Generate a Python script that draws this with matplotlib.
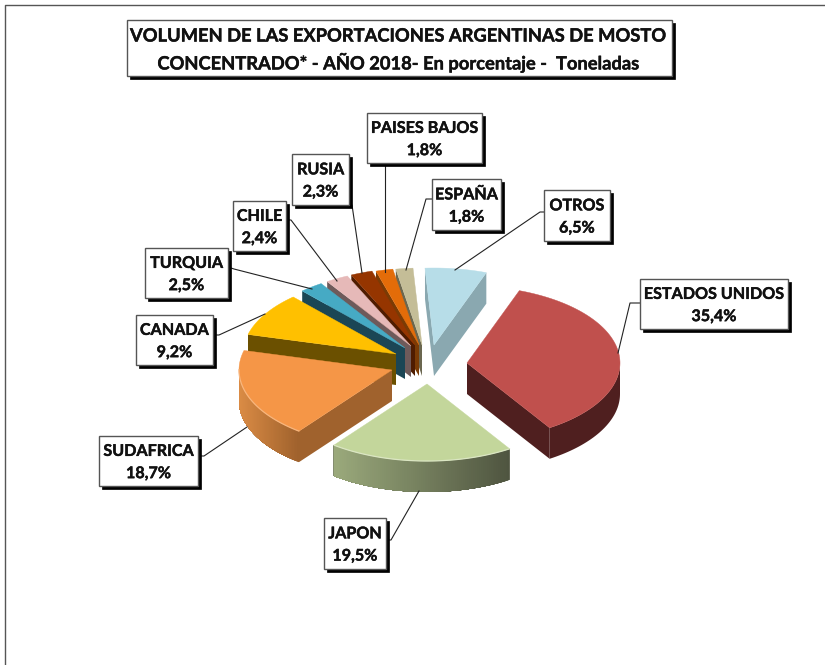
import numpy as np
import matplotlib
matplotlib.use("Agg")
import matplotlib.pyplot as plt
import matplotlib.patheffects as pe
from matplotlib.patches import Polygon, Rectangle
from matplotlib.colors import to_rgb

# --- Data ---
TITLE = "VOLUMEN DE LAS EXPORTACIONES ARGENTINAS DE MOSTO\nCONCENTRADO* - AÑO 2018- En porcentaje -  Toneladas"
countries = ["ESTADOS UNIDOS", "JAPON", "SUDAFRICA", "CANADA", "TURQUIA",
             "CHILE", "RUSIA", "PAISES BAJOS", "ESPAÑA", "OTROS"]
shares = [35.4, 19.5, 18.7, 9.2, 2.5, 2.4, 2.3, 1.8, 1.8, 6.5]

# --- Style ---
top_colors = ["#C0504D", "#C3D69B", "#F59647", "#FFC000", "#46AAC4",
              "#E6B9B8", "#953500", "#E36C09", "#C4BD97", "#B7DDE8"]
side_colors = ["#4F1F1F", "#4F5540", "#A0622D", "#6B5000", "#1B4655",
               "#6E5A5A", "#4F1C00", "#7A3B05", "#6B6750", "#8AA8B0"]
rim_left = ["#4F1F1F", "#9BAA7C", "#DB8C45", "#6B5000", "#1B4655",
            "#6E5A5A", "#4F1C00", "#7A3B05", "#6B6750", "#8AA8B0"]
rim_right = ["#4F1F1F", "#4F5540", "#A0622D", "#6B5000", "#1B4655",
             "#6E5A5A", "#4F1C00", "#7A3B05", "#6B6750", "#8AA8B0"]
bevel = [0, 0.4, 0.3, 0, 0, 0, 0, 0, 0, 0]
# wedge tip of each slice after exploding, in pixels
apex_x = [467, 427, 392, 396, 405, 411, 415, 419, 422, 434]
apex_y = [363, 384, 370, 354, 348, 346, 345, 345, 345, 345]
# label boxes: left, top, right, bottom
boxes = [(640, 279, 788, 329), (324, 518, 386, 569), (99, 436, 198, 486),
         (136, 315, 213, 365), (145, 248, 228, 298), (233, 201, 286, 251),
         (292, 154, 349, 205), (367, 113, 482, 163), (432, 179, 501, 230),
         (544, 190, 610, 241)]
leaders = [[(640, 303), (630, 303), (618, 353)],
           [(386, 540), (391, 540), (419, 491)],
           [(198, 456), (204, 456), (247, 427)],
           [(213, 335), (219, 335), (265, 314)],
           [(228, 267), (234, 269), (312, 289)],
           [(286, 220), (291, 220), (337, 281)],
           [(349, 205), (352, 205), (362, 273)],
           [(385, 163), (385, 272)],
           [(432, 199), (426, 199), (406, 270)],
           [(544, 212), (540, 212), (455, 270)]]
START_ANGLE = 70
RX, RY = 153, 77
DEPTH = 31
# back to front
draw_order = [9, 8, 7, 6, 5, 4, 3, 0, 2, 1]


def mix(c1, c2, f):
    a, b = np.array(to_rgb(c1)), np.array(to_rgb(c2))
    return tuple(a + (b - a) * f)


def draw_slice(ax, i, t0, t1):
    ax_, ay_ = apex_x[i], apex_y[i]
    t = np.radians(np.linspace(t0, t1, 90))
    xs = ax_ + RX * np.cos(t)
    ys = ay_ - RY * np.sin(t)

    # radial faces, only if they turn toward the viewer
    if xs[0] < ax_:
        ax.add_patch(Polygon([(ax_, ay_), (xs[0], ys[0]), (xs[0], ys[0] + DEPTH), (ax_, ay_ + DEPTH)],
                             closed=True, fc=side_colors[i], ec="none"))
    if ax_ < xs[-1]:
        ax.add_patch(Polygon([(ax_, ay_), (xs[-1], ys[-1]), (xs[-1], ys[-1] + DEPTH), (ax_, ay_ + DEPTH)],
                             closed=True, fc=side_colors[i], ec="none"))

    # outer rim: one solid band, then overlapping strips where it is shaded
    front = np.where(xs[1:] < xs[:-1])[0]
    if len(front):
        fx = xs[front[0]:front[-1] + 2]
        fy = ys[front[0]:front[-1] + 2]
        band = list(zip(fx, fy)) + list(zip(fx[::-1], fy[::-1] + DEPTH))
        ax.add_patch(Polygon(band, closed=True, fc=rim_right[i], ec="none"))
        if rim_left[i] != rim_right[i]:
            # strips run right to left and each one reaches to the left end
            for k in range(0, len(fx) - 1):
                f = (fx[k] - fx.min()) / max(fx.max() - fx.min(), 1)
                c = mix(rim_left[i], rim_right[i], f)
                sx, sy = fx[k:], fy[k:]
                ax.add_patch(Polygon(list(zip(sx, sy)) + list(zip(sx[::-1], sy[::-1] + DEPTH)),
                                     closed=True, fc=c, ec="none"))

    # top face
    pts = [(ax_, ay_)] + list(zip(xs, ys))
    ax.add_patch(Polygon(pts, closed=True, fc=top_colors[i], ec=top_colors[i], lw=0.3))

    # light bevel on the front edge of the top
    if bevel[i] > 0 and len(front):
        ax.plot(fx, fy, color=mix(top_colors[i], "#FFFFFF", bevel[i]), lw=0.9, solid_capstyle="round")


def label_box(ax, box, text, size, spacing):
    l, t, r, b = box
    ax.add_patch(Rectangle((l + 3, t + 3), r - l, b - t, fc="black", ec="black", lw=0.5, zorder=6))
    ax.add_patch(Rectangle((l, t), r - l, b - t, fc="white", ec="#555555", lw=1.0, zorder=7))
    tx = ax.text((l + r) / 2, (t + b) / 2 + 2, text, ha="center", va="center", fontsize=size,
                 fontweight="bold", family="Lato", color="#111111", linespacing=spacing, zorder=8)
    tx.set_path_effects([pe.withStroke(linewidth=0.3, foreground="#111111")])


fig = plt.figure(figsize=(8.25, 6.65), dpi=100)
ax = fig.add_axes([0, 0, 1, 1])
ax.set_xlim(0, 825)
ax.set_ylim(665, 0)
ax.axis("off")

# chart frame, only top and left show
ax.plot([4.5, 4.5, 825], [665, 4.5, 4.5], color="#555555", lw=1.0)

# slice angles from the values, clockwise
total = sum(shares)
ends = START_ANGLE - np.cumsum(shares) / total * 360
starts = np.concatenate([[START_ANGLE], ends[:-1]])
for i in draw_order:
    draw_slice(ax, i, starts[i], ends[i])

for pts in leaders:
    px, py = zip(*pts)
    ax.plot(px, py, color="#222222", lw=0.8, zorder=5)

for i, name in enumerate(countries):
    txt = f"{name}\n{shares[i]:.1f}%".replace(".", ",")
    label_box(ax, boxes[i], txt, 11.6, 1.75)

label_box(ax, (127, 20, 672, 76), TITLE, 13.2, 1.4)

plt.savefig("out.png", dpi=100)
